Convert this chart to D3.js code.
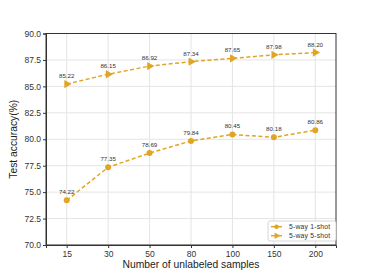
<!DOCTYPE html>
<html><head><meta charset="utf-8">
<script src="https://cdn.jsdelivr.net/npm/d3@7"></script>
<style>body{margin:0;background:#fff}svg{display:block}</style>
</head><body>
<script>
const categories = ["15","30","50","80","100","150","200"];
const oneShot = [74.22, 77.35, 78.69, 79.84, 80.45, 80.18, 80.86];
const fiveShot = [85.22, 86.15, 86.92, 87.34, 87.65, 87.98, 88.20];
const yTicks = [70.0, 72.5, 75.0, 77.5, 80.0, 82.5, 85.0, 87.5, 90.0];
const seriesNames = ["5-way 1-shot", "5-way 5-shot"];

const W = 374, H = 280;
const m = {l: 46, r: 38, t: 33.5, b: 35};
const color = "#e0a525";
const font = "Liberation Sans, Arial, sans-serif";

const svg = d3.select("body").append("svg").attr("width", W).attr("height", H);
const x = d3.scalePoint().domain(categories).range([m.l, W - m.r]).padding(0.5);
const y = d3.scaleLinear().domain([70, 90]).range([H - m.b, m.t]);

// grid
const g = svg.append("g");
g.selectAll(".vg").data(categories).join("line")
  .attr("x1", d => x(d)).attr("x2", d => x(d)).attr("y1", m.t).attr("y2", H - m.b)
  .attr("stroke", "#e4e4e4").attr("stroke-width", 1);
g.selectAll(".hg").data(yTicks).join("line")
  .attr("x1", m.l).attr("x2", W - m.r).attr("y1", d => y(d)).attr("y2", d => y(d))
  .attr("stroke", "#e4e4e4").attr("stroke-width", 1);

// frame
svg.append("rect").attr("x", m.l).attr("y", m.t).attr("width", W - m.r - m.l).attr("height", H - m.b - m.t)
  .attr("fill", "none").attr("stroke", "#333").attr("stroke-width", 1);

// axes
const xa = svg.append("g").attr("transform", `translate(0,${H - m.b})`)
  .call(d3.axisBottom(x).tickSize(3).tickPadding(3));
const ya = svg.append("g").attr("transform", `translate(${m.l},0)`)
  .call(d3.axisLeft(y).tickValues(yTicks).tickFormat(d3.format(".1f")).tickSize(3).tickPadding(2));
[xa, ya].forEach(a => {
  a.select(".domain").attr("stroke", "#333");
  a.selectAll(".tick line").attr("stroke", "#333");
  a.selectAll("text").attr("font-family", font).attr("font-size", 8.5).attr("fill", "#333");
});

// axis titles
svg.append("text").attr("x", (m.l + W - m.r) / 2).attr("y", 268).attr("text-anchor", "middle")
  .attr("font-family", font).attr("font-size", 10.3).attr("fill", "#222").text("Number of unlabeled samples");
svg.append("text").attr("transform", `translate(17,${(m.t + H - m.b) / 2}) rotate(-90)`).attr("text-anchor", "middle")
  .attr("font-family", font).attr("font-size", 10.3).attr("fill", "#222").text("Test accuracy(%)");

const line = d3.line().x((d, i) => x(categories[i])).y(d => y(d));
const tri = d3.symbol().type(d3.symbolTriangle).size(30);

function drawSeries(vals, marker) {
  svg.append("path").datum(vals).attr("d", line).attr("fill", "none")
    .attr("stroke", color).attr("stroke-width", 1.5).attr("stroke-dasharray", "4,2.5");
  const pts = svg.append("g").selectAll("g").data(vals).join("g")
    .attr("transform", (d, i) => `translate(${x(categories[i])},${y(d)})`);
  if (marker === "circle") pts.append("circle").attr("r", 3).attr("fill", color);
  else pts.append("path").attr("d", tri).attr("transform", "rotate(90)").attr("fill", color);
  svg.append("g").selectAll("text").data(vals).join("text")
    .attr("x", (d, i) => x(categories[i])).attr("y", d => y(d) - 6)
    .attr("text-anchor", "middle").attr("font-family", font).attr("font-size", 6.2).attr("fill", "#333")
    .text(d => d.toFixed(2));
}
drawSeries(oneShot, "circle");
drawSeries(fiveShot, "tri");

// legend
const lg = svg.append("g").attr("transform", "translate(268,221)");
lg.append("rect").attr("width", 68).attr("height", 20).attr("rx", 2).attr("fill", "#fff")
  .attr("stroke", "#ccc").attr("stroke-width", 0.8);
seriesNames.forEach((n, i) => {
  const yy = 5.7 + i * 9;
  lg.append("line").attr("x1", 3).attr("x2", 14).attr("y1", yy).attr("y2", yy).attr("stroke", color).attr("stroke-width", 1.5);
  if (i === 0) lg.append("circle").attr("cx", 8.5).attr("cy", yy).attr("r", 2.2).attr("fill", color);
  else lg.append("path").attr("d", d3.symbol().type(d3.symbolTriangle).size(18)).attr("transform", `translate(8.5,${yy}) rotate(90)`).attr("fill", color);
  lg.append("text").attr("x", 21).attr("y", yy + 2.3).attr("font-family", font).attr("font-size", 6.8)
    .attr("letter-spacing", 0.2).attr("fill", "#333").text(n);
});
</script>
</body></html>
